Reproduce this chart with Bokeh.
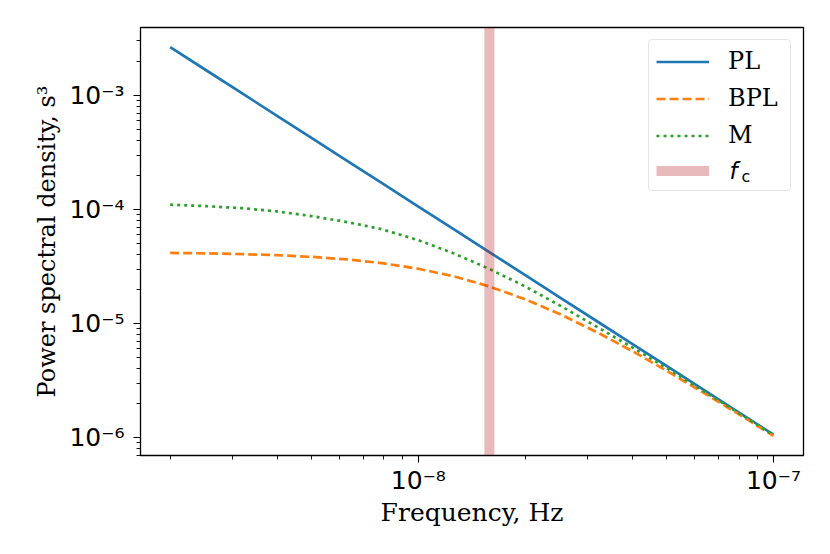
from bokeh.plotting import figure
from bokeh.models import (FixedTicker, CustomJSTickFormatter, Legend, LegendItem,
                          Label, Range1d)
from bokeh.embed import file_html
from bokeh.resources import INLINE

# ---- data ----
freq = [2.0e-9, 2.5e-9, 3.2e-9, 4.0e-9, 5.0e-9, 6.3e-9, 7.9e-9, 1.0e-8, 1.26e-8,
        1.58e-8, 2.0e-8, 2.5e-8, 3.2e-8, 4.0e-8, 5.0e-8, 6.3e-8, 7.9e-8, 1.0e-7]
psd_pl = [2.65e-3, 1.696e-3, 1.035e-3, 6.625e-4, 4.24e-4, 2.671e-4, 1.698e-4, 1.06e-4,
          6.677e-5, 4.246e-5, 2.65e-5, 1.696e-5, 1.035e-5, 6.625e-6, 4.24e-6, 2.671e-6,
          1.698e-6, 1.06e-6]
psd_bpl = [4.154e-5, 4.118e-5, 4.055e-5, 3.967e-5, 3.838e-5, 3.644e-5, 3.380e-5, 3.019e-5,
           2.586e-5, 2.117e-5, 1.628e-5, 1.210e-5, 8.31e-6, 5.73e-6, 3.85e-6, 2.51e-6,
           1.633e-6, 1.034e-6]
psd_m = [1.10e-4, 1.07e-4, 1.025e-4, 9.6e-5, 8.75e-5, 7.75e-5, 6.7e-5, 5.37e-5, 4.11e-5,
         3.02e-5, 2.11e-5, 1.44e-5, 9.24e-6, 6.17e-6, 4.07e-6, 2.60e-6, 1.673e-6, 1.049e-6]
f_c = 1.585e-8
labels = ["PL", "BPL", "M"]
x_major = [1e-8, 1e-7]
y_major = [1e-6, 1e-5, 1e-4, 1e-3]

x_lo, x_hi = 1.65e-9, 1.215e-7
y_lo, y_hi = 6.95e-7, 3.94e-3

x_minor = [m * 10.0 ** e for e in range(-10, -6) for m in range(2, 10)]
y_minor = [m * 10.0 ** e for e in range(-7, -2) for m in range(2, 10)]

p = figure(width=822, height=546, x_axis_type="log", y_axis_type="log",
           x_range=Range1d(x_lo, x_hi), y_range=Range1d(y_lo, y_hi),
           output_backend="svg", toolbar_location=None,
           min_border_left=140, min_border_right=19, min_border_top=27,
           min_border_bottom=91)
p.background_fill_color = "white"
p.border_fill_color = "white"
p.outline_line_color = "black"
p.outline_line_width = 1.3
p.xgrid.visible = False
p.ygrid.visible = False

fmt = CustomJSTickFormatter(code="""
const e = Math.round(Math.log10(tick));
const sup = {'-':'\u207b','0':'\u2070','1':'\u00b9','2':'\u00b2','3':'\u00b3','4':'\u2074',
             '5':'\u2075','6':'\u2076','7':'\u2077','8':'\u2078','9':'\u2079'};
return '10' + String(e).split('').map(c => sup[c]).join('');
""")

p.xaxis.ticker = FixedTicker(ticks=x_major, minor_ticks=x_minor)
p.yaxis.ticker = FixedTicker(ticks=y_major, minor_ticks=y_minor)
for ax in (p.xaxis, p.yaxis):
    ax.formatter = fmt
    ax.axis_line_color = None
    ax.major_tick_out = 7
    ax.major_tick_in = 0
    ax.minor_tick_out = 4
    ax.minor_tick_in = 0
    ax.major_tick_line_color = "black"
    ax.minor_tick_line_color = "black"
    ax.major_tick_line_width = 1.1
    ax.minor_tick_line_width = 0.9
    ax.major_label_text_font = "DejaVu Sans"
    ax.major_label_text_font_size = "25px"
    ax.major_label_text_color = "black"
    ax.axis_label_text_font = "DejaVu Serif"
    ax.axis_label_text_font_style = "normal"
    ax.axis_label_text_color = "black"

p.xaxis.axis_label = "Frequency, Hz"
p.yaxis.axis_label = "Power spectral density, s\u00b3"
p.xaxis.axis_label_text_font_size = "25px"
p.yaxis.axis_label_text_font_size = "24px"
p.xaxis.major_label_standoff = 3
p.yaxis.major_label_standoff = 9
p.xaxis.axis_label_standoff = 0
p.yaxis.axis_label_standoff = 5

r_pl = p.line(freq, psd_pl, line_color="#1f77b4", line_width=2.7)
r_bpl = p.line(freq, psd_bpl, line_color="#ff7f0e", line_width=2.7, line_dash="9 4")
r_m = p.line(freq, psd_m, line_color="#2ca02c", line_width=2.7, line_dash="3 4")
r_fc = p.line([f_c, f_c], [y_lo, y_hi], line_color="#b3191e", line_alpha=0.3,
              line_width=10)

legend = Legend(items=[LegendItem(label=labels[0], renderers=[r_pl]),
                       LegendItem(label=labels[1], renderers=[r_bpl]),
                       LegendItem(label=labels[2], renderers=[r_m]),
                       LegendItem(label=" ", renderers=[r_fc])],
                location="top_right")
legend.label_text_font = "DejaVu Serif"
legend.label_text_font_size = "24px"
legend.label_text_color = "black"
legend.glyph_width = 53
legend.glyph_height = 25
legend.label_height = 25
legend.label_width = 55
legend.label_standoff = 19
legend.spacing = 9
legend.padding = 7
legend.margin = 12
legend.border_line_color = "#cccccc"
legend.border_line_width = 1
legend.background_fill_alpha = 0.0
legend.border_radius = 4
p.add_layout(legend)

p.add_layout(Label(x=589, y=285, x_units="screen", y_units="screen", text="f",
                   text_font="DejaVu Sans", text_font_style="italic",
                   text_font_size="23px", text_color="black", level="overlay",
                   text_baseline="alphabetic", text_align="left"))
p.add_layout(Label(x=601, y=279, x_units="screen", y_units="screen", text="c",
                   text_font="DejaVu Sans", text_font_size="16px", text_color="black",
                   level="overlay", text_baseline="alphabetic", text_align="left"))

open("out.html", "w").write(file_html(p, INLINE))
